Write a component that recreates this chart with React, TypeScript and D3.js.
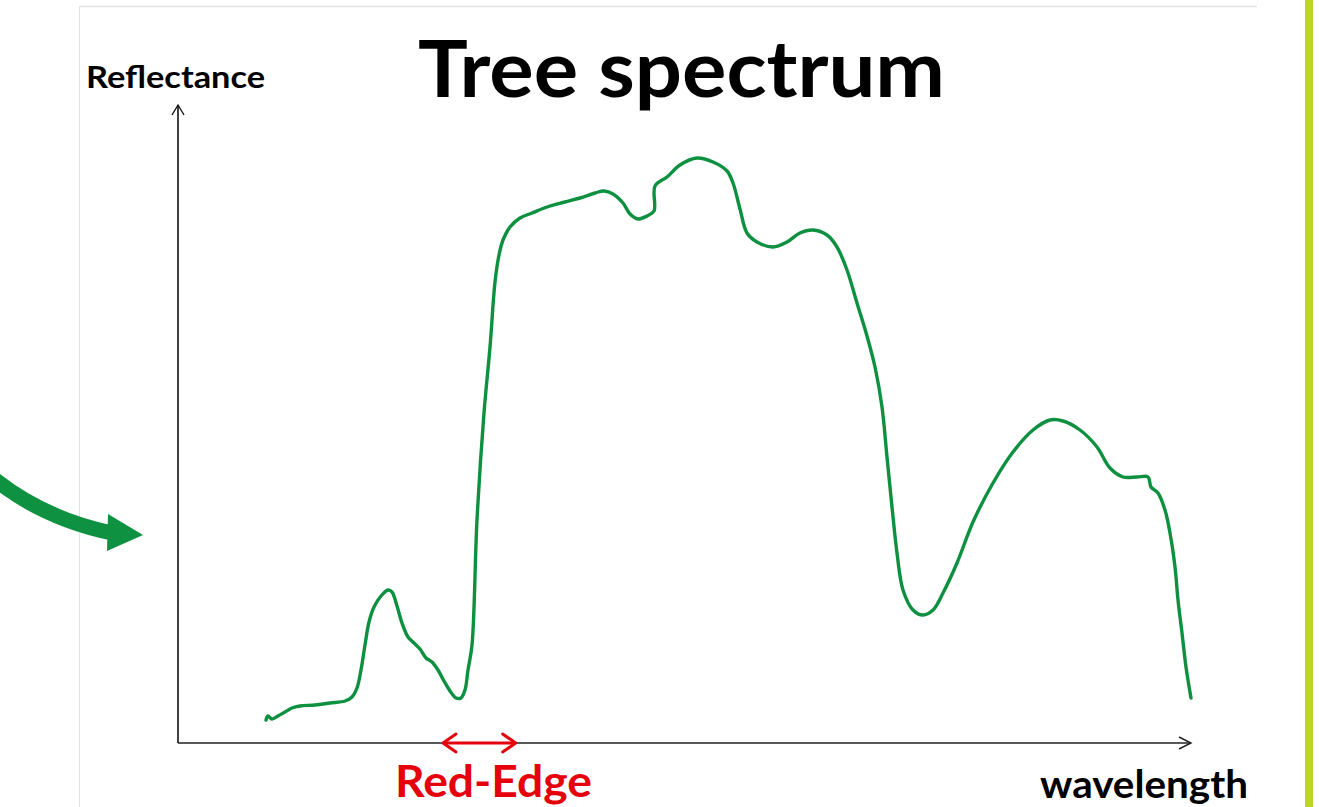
import React from "react";
import * as d3 from "d3";

// Tree reflectance spectrum
const wavelengthNm = [
  400, 403, 409, 418, 428.5, 439, 451, 473.5, 496, 518.5, 529, 536.5, 542.5, 548.5, 554.5, 562, 572.5, 583, 589, 596.5,
  604, 613, 622, 631, 640, 649, 658, 667, 676, 685, 692.5, 698.5, 703, 709, 716.5, 727, 736, 743.5, 749.5, 755.5,
  766, 781, 799, 821.5, 848.5, 871, 893.5, 907, 920.5, 935.5, 946, 958, 971.5, 982, 983.5, 1001.5, 1021, 1046.5, 1070.5, 1091.5,
  1100.5, 1111, 1121.5, 1136.5, 1160.5, 1181.5, 1201, 1220.5, 1241.5, 1256.5, 1271.5, 1286.5, 1301.5, 1313.5, 1324, 1331.5, 1339, 1346.5, 1355.5, 1370.5,
  1385.5, 1400.5, 1415.5, 1436.5, 1460.5, 1490.5, 1520.5, 1550.5, 1576, 1595.5, 1621, 1646.5, 1666, 1685.5, 1706.5, 1723, 1727.5, 1738, 1748.5, 1756,
  1763.5, 1768, 1774, 1780, 1787.5,
];
const reflectancePct = [
  2.3, 2.7, 2.4, 2.7, 3.1, 3.5, 3.7, 3.8, 4.0, 4.2, 4.6, 5.5, 7.3, 9.8, 12.1, 13.6, 14.7, 15.3, 15.1, 13.7,
  12.0, 10.6, 10.0, 9.4, 8.5, 8.1, 7.3, 6.2, 5.2, 4.5, 4.5, 5.3, 7.3, 9.8, 22.3, 33.0, 39.6, 46.1, 48.8, 50.3,
  51.6, 52.5, 53.0, 53.6, 54.1, 54.5, 55.0, 55.2, 54.9, 54.0, 52.9, 52.4, 52.7, 53.2, 55.7, 56.6, 57.8, 58.5, 58.1, 57.2,
  56.0, 53.4, 51.0, 50.1, 49.6, 50.1, 51.0, 51.3, 50.8, 49.6, 47.3, 44.0, 40.7, 37.6, 33.6, 28.6, 23.6, 19.0, 15.3, 13.3,
  12.8, 13.3, 15.0, 18.0, 22.1, 26.0, 29.1, 31.3, 32.3, 32.2, 31.3, 29.6, 27.5, 26.6, 26.6, 26.6, 25.6, 25.0, 23.3, 21.0,
  17.6, 14.3, 11.0, 7.6, 4.5,
];
const redEdgeNm = [664, 776];
const titleText = "Tree spectrum";
const yLabel = "Reflectance";
const xLabel = "wavelength";
const redEdgeLabel = "Red-Edge";

const W = 1319;
const H = 807;

export default function App() {
  const x = d3.scaleLinear().domain([400, 1800]).range([266, 266 + 1400 / 1.5]);
  const y = d3.scaleLinear().domain([0, 60]).range([743, 143]);
  const data = wavelengthNm.map((w, i) => [w, reflectancePct[i]] as [number, number]);
  const line = d3
    .line<[number, number]>()
    .x((d) => x(d[0]))
    .y((d) => y(d[1]))
    .curve(d3.curveCatmullRom.alpha(0.5));

  const axisX0 = 178;
  const axisY0 = 743;
  const axisTopY = 105;
  const axisRightX = 1191;
  const font = "Lato, 'Open Sans', 'DejaVu Sans', sans-serif";
  const green = "#0d9040";
  const red = "#e5000c";

  const re0 = x(redEdgeNm[0]);
  const re1 = x(redEdgeNm[1]);

  return (
    <svg
      width={W}
      height={H}
      style={{ position: "absolute", left: 0, top: 0, background: "#fff" }}
      viewBox={`0 0 ${W} ${H}`}
    >
      <rect x={0} y={0} width={W} height={H} fill="#ffffff" />
      {/* slide frame */}
      <line x1={79.5} y1={6.5} x2={1257} y2={6.5} stroke="#e3e3e3" strokeWidth={1.5} />
      <line x1={79.5} y1={6.5} x2={79.5} y2={H} stroke="#e0e0e0" strokeWidth={1} />
      <rect x={1305} y={0} width={8} height={H} fill="#bdd52b" />

      {/* incoming green arrow */}
      <path d="M -12 474 Q 40 518 112 533" fill="none" stroke="#0e9141" strokeWidth={15} />
      <path d="M 108 514 L 143 535 L 107 551 Z" fill="#0e9141" />

      {/* axes */}
      <line x1={axisX0} y1={axisY0} x2={axisX0} y2={axisTopY} stroke="#111" strokeWidth={1.6} />
      <path
        d={`M ${axisX0 - 6} ${axisTopY + 10} L ${axisX0} ${axisTopY} L ${axisX0 + 6} ${axisTopY + 10}`}
        fill="none"
        stroke="#111"
        strokeWidth={1.4}
      />
      <line x1={axisX0} y1={axisY0} x2={axisRightX} y2={axisY0} stroke="#222" strokeWidth={1.6} />
      <path
        d={`M ${axisRightX - 12} ${axisY0 - 6} L ${axisRightX} ${axisY0} L ${axisRightX - 12} ${axisY0 + 6}`}
        fill="none"
        stroke="#222"
        strokeWidth={1.4}
      />

      {/* spectrum */}
      <path d={line(data) || ""} fill="none" stroke={green} strokeWidth={3.4} strokeLinejoin="round" strokeLinecap="round" />

      {/* red edge marker */}
      <line x1={re0 + 1} y1={axisY0} x2={re1 - 1} y2={axisY0} stroke={red} strokeWidth={3} />
      <path
        d={`M ${re0 + 14} ${axisY0 - 9} L ${re0 + 1} ${axisY0} L ${re0 + 14} ${axisY0 + 9}`}
        fill="none"
        stroke={red}
        strokeWidth={3}
        strokeLinecap="round"
        strokeLinejoin="round"
      />
      <path
        d={`M ${re1 - 14} ${axisY0 - 9} L ${re1 - 1} ${axisY0} L ${re1 - 14} ${axisY0 + 9}`}
        fill="none"
        stroke={red}
        strokeWidth={3}
        strokeLinecap="round"
        strokeLinejoin="round"
      />

      {/* texts */}
      <text x={418} y={97} fontFamily={font} fontWeight={700} fontSize={78} fill="#000" textLength={527} lengthAdjust="spacingAndGlyphs">
        {titleText}
      </text>
      <text x={86} y={88} fontFamily={font} fontWeight={700} fontSize={31} fill="#000" textLength={179} lengthAdjust="spacingAndGlyphs">
        {yLabel}
      </text>
      <text x={1040} y={798} fontFamily={font} fontWeight={700} fontSize={39} fill="#000" textLength={208} lengthAdjust="spacingAndGlyphs">
        {xLabel}
      </text>
      <text x={395} y={797} fontFamily={font} fontWeight={700} fontSize={43} fill={red} textLength={197} lengthAdjust="spacingAndGlyphs">
        {redEdgeLabel}
      </text>
    </svg>
  );
}
